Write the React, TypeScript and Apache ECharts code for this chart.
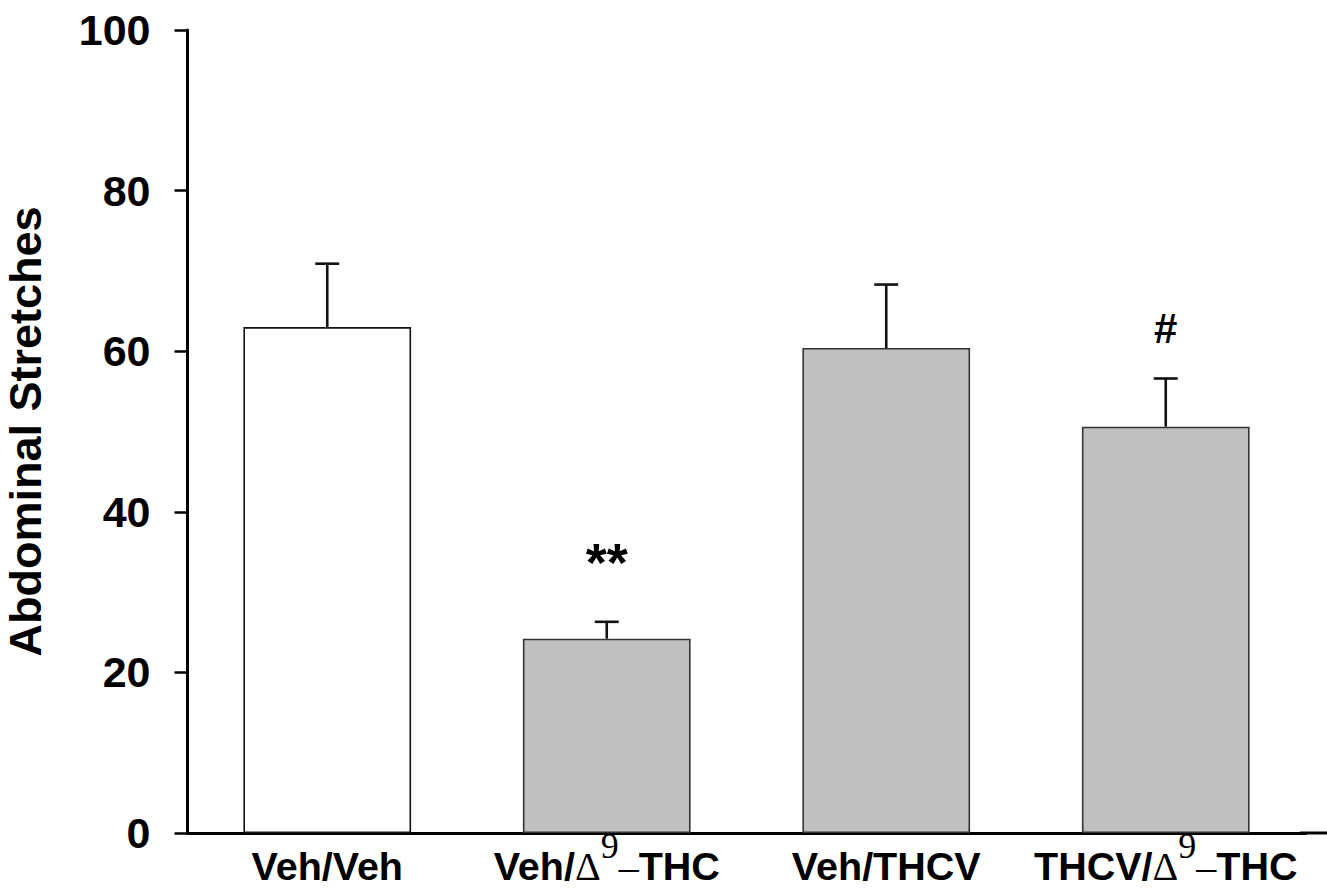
import React, { useEffect, useRef } from "react";
import * as echarts from "echarts";

const categories = ["Veh/Veh", "Veh/Δ9–THC", "Veh/THCV", "THCV/Δ9–THC"];
const means = [63.0, 24.2, 60.4, 50.6];
const errorTops = [70.9, 26.3, 68.3, 56.6];
const barFills = ["#ffffff", "#c0c0c0", "#c0c0c0", "#c0c0c0"];
const sigIndex = [1, 3];
const sigMarks = ["**", "#"];
const sigValues = [33.7, 62.8];
const yMin = 0;
const yMax = 100;
const yStep = 20;
const yTitle = "Abdominal Stretches";

const SANS = "'Liberation Sans', Arial, Helvetica, sans-serif";
const SERIF = "'Liberation Serif', 'Times New Roman', serif";

type Piece = { text: string; family: string; weight: string; size: number; rise: number; central: number };

function splitLabel(v: string): Piece[] {
  const main = { family: SANS, weight: "bold", size: 39.5, rise: 0, central: 0.3465 };
  const m = v.match(/^(.*)Δ9–(.*)$/);
  if (!m) return [{ text: v, ...main }];
  return [
    { text: m[1], ...main },
    { text: "Δ", family: SERIF, weight: "normal", size: 40, rise: 0, central: 0.3375 },
    { text: "9", family: SERIF, weight: "normal", size: 36, rise: 22, central: 0.3375 },
    { text: "–", family: SERIF, weight: "normal", size: 40, rise: 0, central: 0.3375 },
    { text: m[2], ...main },
  ];
}

export default function App() {
  const ref = useRef<HTMLDivElement | null>(null);

  useEffect(() => {
    if (!ref.current) return;
    const chart = echarts.init(ref.current, null, { renderer: "svg" });
    const ctx = document.createElement("canvas").getContext("2d") as CanvasRenderingContext2D;
    const measure = (p: Piece) => {
      ctx.font = `${p.weight} ${p.size}px ${p.family}`;
      return ctx.measureText(p.text).width;
    };

    const option: any = {
      animation: false,
      backgroundColor: "#ffffff",
      grid: {
        left: 187.5,
        width: 1118,
        top: 30,
        height: 803,
        containLabel: false,
        outerBoundsMode: "none",
      },
      xAxis: {
        type: "category",
        data: categories,
        boundaryGap: true,
        axisLine: { show: true, lineStyle: { color: "#000", width: 3 } },
        axisTick: { show: false },
        axisLabel: { show: false },
      },
      yAxis: {
        type: "value",
        min: yMin,
        max: yMax,
        interval: yStep,
        name: yTitle,
        nameLocation: "middle",
        nameRotate: 90,
        nameGap: 140,
        nameTextStyle: { fontFamily: SANS, fontWeight: "bold", fontSize: 45, color: "#000" },
        axisLine: { show: true, lineStyle: { color: "#000", width: 3 } },
        axisTick: { show: true, inside: false, length: 13, lineStyle: { color: "#000", width: 2.5 } },
        splitLine: { show: false },
        axisLabel: { margin: 37, fontFamily: SANS, fontWeight: "bold", fontSize: 43, color: "#000" },
      },
      series: [
        {
          type: "bar",
          barWidth: "60%",
          data: means.map((v, i) => ({
            value: v,
            itemStyle: {
              color: barFills[i],
              borderColor: i === 0 ? "#111" : "#333",
              borderWidth: 1.6,
            },
          })),
          z: 2,
        },
        {
          type: "custom",
          z: 3,
          data: means.map((v, i) => [i, v, errorTops[i]]),
          encode: { x: 0, y: [1, 2] },
          renderItem: (params: any, api: any) => {
            const i = api.value(0);
            const p0 = api.coord([i, api.value(1)]);
            const p1 = api.coord([i, api.value(2)]);
            const hw = 12;
            const st = { stroke: "#111", lineWidth: 2.6 };
            return {
              type: "group",
              children: [
                { type: "line", shape: { x1: p0[0], y1: p0[1], x2: p1[0], y2: p1[1] }, style: st },
                { type: "line", shape: { x1: p1[0] - hw, y1: p1[1], x2: p1[0] + hw, y2: p1[1] }, style: st },
              ],
            };
          },
        },
        {
          type: "custom",
          z: 4,
          data: sigIndex.map((ci, k) => [ci, sigValues[k]]),
          encode: { x: 0, y: 1 },
          renderItem: (params: any, api: any) => {
            const p = api.coord([api.value(0), api.value(1)]);
            const txt = sigMarks[params.dataIndex];
            return {
              type: "text",
              x: p[0],
              y: p[1],
              style: {
                text: txt,
                fontFamily: SANS,
                fontWeight: "bold",
                fontSize: txt === "**" ? 54 : 42,
                fill: "#000",
                align: "center",
                verticalAlign: "middle",
              },
            };
          },
        },
        {
          type: "custom",
          z: 5,
          clip: false,
          silent: true,
          data: categories.map((c, i) => [i, yMin]),
          encode: { x: 0, y: 1 },
          renderItem: (params: any, api: any) => {
            const i = params.dataIndex;
            const p = api.coord([api.value(0), api.value(1)]);
            const pieces = splitLabel(categories[i]);
            const widths = pieces.map(measure);
            const total = widths.reduce((a, b) => a + b, 0);
            let x = p[0] - total / 2;
            const baseline = p[1] + 47;
            const children = pieces.map((pc, k) => {
              const el = {
                type: "text",
                x,
                y: baseline - pc.rise - pc.central * pc.size,
                style: {
                  text: pc.text,
                  fontFamily: pc.family,
                  fontWeight: pc.weight,
                  fontSize: pc.size,
                  fill: "#000",
                  align: "left",
                  verticalAlign: "middle",
                },
              };
              x += widths[k];
              return el;
            });
            return { type: "group", children };
          },
        },
      ],
    };

    chart.setOption(option);
    const zero = chart.convertToPixel({ gridIndex: 0 }, [categories.length - 1, yMin]) as number[];
    const rightEdge = chart.getWidth();
    chart.setOption({
      graphic: [
        {
          type: "line",
          shape: { x1: 1300, y1: zero[1], x2: rightEdge, y2: zero[1] },
          style: { stroke: "#000", lineWidth: 3 },
          z: 10,
        },
      ],
    });
    return () => chart.dispose();
  }, []);

  return (
    <div
      ref={ref}
      style={{ position: "fixed", left: 0, top: 0, width: 1327, height: 892, background: "#fff" }}
    />
  );
}
